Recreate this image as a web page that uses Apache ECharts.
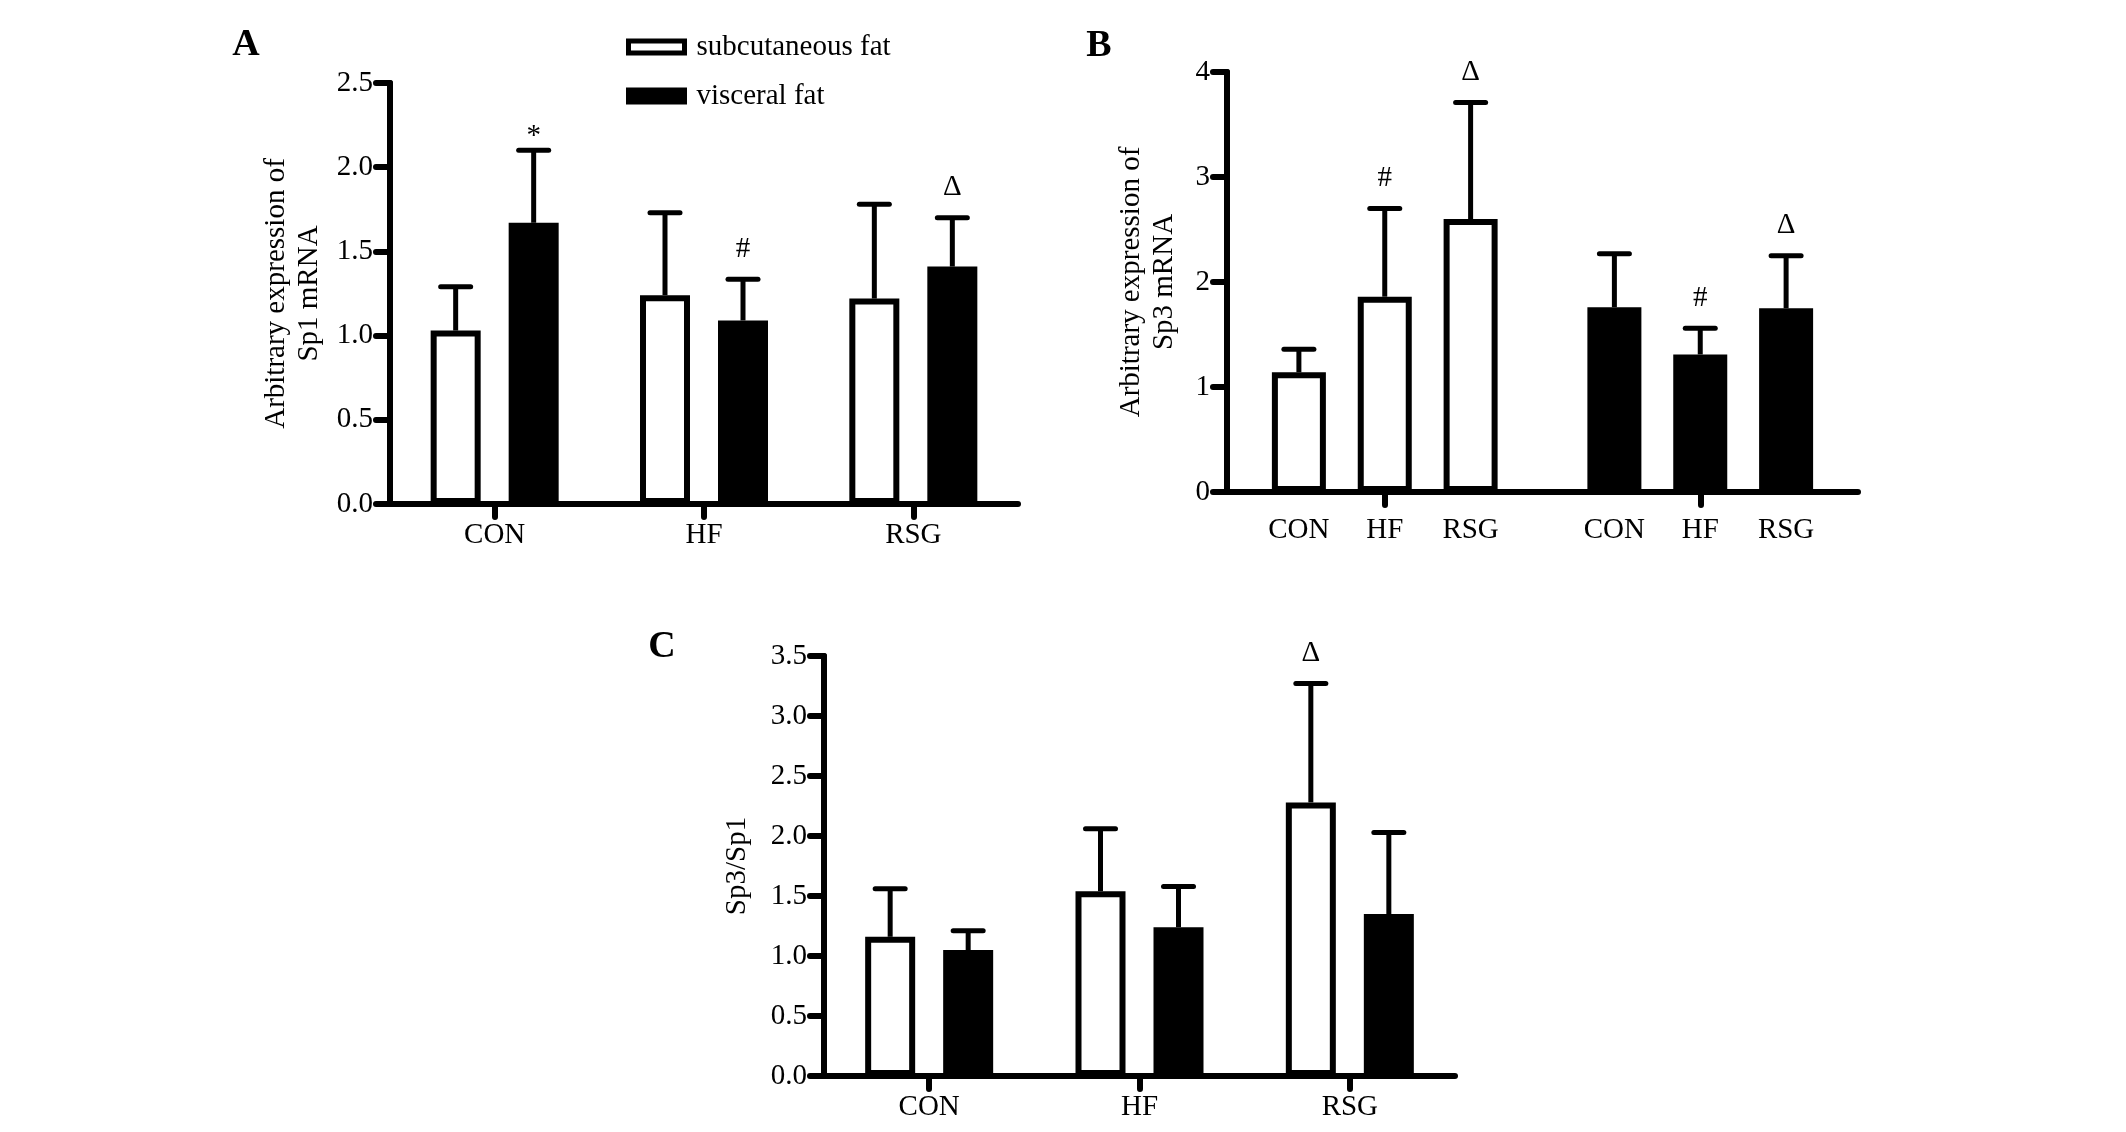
<!DOCTYPE html>
<html>
<head>
<meta charset="utf-8">
<script src="https://cdn.jsdelivr.net/npm/echarts@6/dist/echarts.min.js"></script>
<style>
html,body{margin:0;padding:0;background:#fff;}
#chart{width:2126px;height:1132px;}
</style>
</head>
<body>
<div id="chart"></div>
<script>
// ---------- data ----------
const groups = ['CON', 'HF', 'RSG'];
const seriesNames = ['subcutaneous fat', 'visceral fat'];

// Panel A: Sp1 mRNA
const a_sub = [1.03, 1.24, 1.22];
const a_sub_err = [0.26, 0.49, 0.56];
const a_vis = [1.67, 1.09, 1.41];
const a_vis_err = [0.43, 0.245, 0.29];
const a_sub_ann = ['', '', ''];
const a_vis_ann = ['*', '#', '\u0394'];
const a_ticks = [0, 0.5, 1.0, 1.5, 2.0, 2.5];

// Panel B: Sp3 mRNA (grouped by tissue)
const b_sub = [1.14, 1.86, 2.60];
const b_sub_err = [0.22, 0.84, 1.11];
const b_vis = [1.76, 1.31, 1.75];
const b_vis_err = [0.51, 0.25, 0.50];
const b_sub_ann = ['', '#', '\u0394'];
const b_vis_ann = ['', '#', '\u0394'];
const b_ticks = [0, 1, 2, 3, 4];

// Panel C: Sp3/Sp1
const c_sub = [1.16, 1.54, 2.28];
const c_sub_err = [0.40, 0.52, 0.99];
const c_vis = [1.05, 1.24, 1.35];
const c_vis_err = [0.16, 0.34, 0.68];
const c_sub_ann = ['', '', '\u0394'];
const c_vis_ann = ['', '', ''];
const c_ticks = [0, 0.5, 1.0, 1.5, 2.0, 2.5, 3.0, 3.5];

// ---------- styling ----------
const FONT = "'Liberation Serif','Times New Roman',serif";
const FS = 29;
const LW = 6;

function xAxisCfg(gridIndex, data, showLabel) {
  return {
    type: 'category', gridIndex: gridIndex, data: data,
    axisLine: { show: true, lineStyle: { color: '#000', width: LW, cap: 'round' } },
    axisTick: { show: true, alignWithLabel: true, length: 13, lineStyle: { color: '#000', width: LW, cap: 'round' } },
    axisLabel: { show: showLabel, fontSize: FS, fontFamily: FONT, color: '#000', margin: 17 },
    splitLine: { show: false }
  };
}
function yAxisCfg(gridIndex, ticks, decimals, name, nameGap) {
  return {
    type: 'value', gridIndex: gridIndex,
    min: ticks[0], max: ticks[ticks.length - 1], interval: ticks[1] - ticks[0],
    axisLine: { show: true, lineStyle: { color: '#000', width: LW, cap: 'round' } },
    axisTick: { show: true, length: 14, lineStyle: { color: '#000', width: LW, cap: 'round' } },
    axisLabel: { fontSize: FS, fontFamily: FONT, color: '#000', margin: 17,
      formatter: function (v) { return v.toFixed(decimals); } },
    splitLine: { show: false },
    name: name, nameLocation: 'middle', nameGap: nameGap, nameRotate: 90,
    nameTextStyle: { fontSize: FS, fontFamily: FONT, color: '#000', lineHeight: 33 }
  };
}
function barSeries(name, gridIndex, data, fill, barWidth, barGap) {
  return {
    type: 'bar', name: name, xAxisIndex: gridIndex, yAxisIndex: gridIndex,
    data: data, barWidth: barWidth, barGap: barGap,
    itemStyle: { color: fill, borderColor: '#000', borderWidth: LW },
    emphasis: { disabled: true }, silent: true, z: 2
  };
}
function errSeries(gridIndex, means, errs, anns, offsetFn) {
  const data = means.map(function (m, i) { return [i, m, errs[i]]; });
  return {
    type: 'custom', xAxisIndex: gridIndex, yAxisIndex: gridIndex, z: 3, silent: true,
    data: data,
    renderItem: function (params, api) {
      const cat = api.value(0), mean = api.value(1), err = api.value(2);
      const base = api.coord([cat, mean]);
      const top = api.coord([cat, mean + err]);
      const x = base[0] + offsetFn(params.dataIndex);
      const children = [
        { type: 'line', shape: { x1: x, y1: base[1], x2: x, y2: top[1] },
          style: { stroke: '#000', lineWidth: 5 } },
        { type: 'line', shape: { x1: x - 15, y1: top[1], x2: x + 15, y2: top[1] },
          style: { stroke: '#000', lineWidth: 5, lineCap: 'round' } }
      ];
      const ann = anns[params.dataIndex];
      if (ann) {
        children.push({ type: 'text', x: x, y: top[1] - (ann === '*' ? 14 : 30),
          style: { text: ann, fill: '#000', font: FS + 'px ' + FONT, align: 'center', verticalAlign: 'middle' } });
      }
      return { type: 'group', children: children };
    }
  };
}

// bar geometry
const AC_BW = 50, AC_GAP = 0.56;          // panels A and C
const B_BW = 54, B_GAP = 0.59;            // panel B
const acStep = AC_BW * (1 + AC_GAP);
const bStep = B_BW * (1 + B_GAP);

const series = [];
// Panel A
series.push(barSeries(seriesNames[0], 0, a_sub, '#fff', AC_BW, (AC_GAP * 100) + '%'));
series.push(barSeries(seriesNames[1], 0, a_vis, '#000', AC_BW, (AC_GAP * 100) + '%'));
series.push(errSeries(0, a_sub, a_sub_err, a_sub_ann, function () { return -acStep / 2; }));
series.push(errSeries(0, a_vis, a_vis_err, a_vis_ann, function () { return acStep / 2; }));

// Panel B: one series per treatment group, categories are tissues
groups.forEach(function (g, k) {
  const s = barSeries(g, 1, [
    { value: b_sub[k], itemStyle: { color: '#fff' } },
    { value: b_vis[k], itemStyle: { color: '#000' } }
  ], '#fff', B_BW, (B_GAP * 100) + '%');
  s.label = { show: true, position: 'bottom', distance: 24, formatter: '{a}',
    fontSize: FS, fontFamily: FONT, color: '#000' };
  series.push(s);
});
groups.forEach(function (g, k) {
  const off = (k - 1) * bStep;
  series.push(errSeries(1, [b_sub[k], b_vis[k]], [b_sub_err[k], b_vis_err[k]],
    [b_sub_ann[k], b_vis_ann[k]], function () { return off; }));
});

// Panel C
series.push(barSeries(seriesNames[0], 2, c_sub, '#fff', AC_BW, (AC_GAP * 100) + '%'));
series.push(barSeries(seriesNames[1], 2, c_vis, '#000', AC_BW, (AC_GAP * 100) + '%'));
series.push(errSeries(2, c_sub, c_sub_err, c_sub_ann, function () { return -acStep / 2; }));
series.push(errSeries(2, c_vis, c_vis_err, c_vis_ann, function () { return acStep / 2; }));

const option = {
  backgroundColor: '#fff',
  animation: false,
  grid: [
    { left: 390, top: 83, width: 628, height: 421, outerBoundsMode: 'none', containLabel: false },
    { left: 1227, top: 72, width: 631, height: 420, outerBoundsMode: 'none', containLabel: false },
    { left: 824, top: 656, width: 631, height: 420, outerBoundsMode: 'none', containLabel: false }
  ],
  xAxis: [
    xAxisCfg(0, groups, true),
    xAxisCfg(1, seriesNames, false),
    xAxisCfg(2, groups, true)
  ],
  yAxis: [
    yAxisCfg(0, a_ticks, 1, 'Arbitrary expression of\nSp1 mRNA', 64),
    yAxisCfg(1, b_ticks, 0, 'Arbitrary expression of\nSp3 mRNA', 46),
    yAxisCfg(2, c_ticks, 1, 'Sp3/Sp1', 70)
  ],
  legend: {
    orient: 'vertical', left: 626, top: 32, padding: 0,
    itemWidth: 56, itemHeight: 12, itemGap: 19, selectedMode: false,
    textStyle: { fontSize: FS, fontFamily: FONT, color: '#000', lineHeight: 30, padding: [0, 0, 0, 7] },
    data: [
      { name: seriesNames[0], icon: 'rect', itemStyle: { color: '#fff', borderColor: '#000', borderWidth: 5 } },
      { name: seriesNames[1], icon: 'rect', itemStyle: { color: '#000', borderColor: '#000', borderWidth: 5 } }
    ]
  },
  graphic: [
    { type: 'text', x: 246, y: 45, style: { text: 'A', font: 'bold 38px ' + FONT, fill: '#000', align: 'center', verticalAlign: 'middle' } },
    { type: 'text', x: 1099, y: 46, style: { text: 'B', font: 'bold 38px ' + FONT, fill: '#000', align: 'center', verticalAlign: 'middle' } },
    { type: 'text', x: 662, y: 647, style: { text: 'C', font: 'bold 38px ' + FONT, fill: '#000', align: 'center', verticalAlign: 'middle' } }
  ],
  series: series
};

const chart = echarts.init(document.getElementById('chart'), null, { renderer: 'canvas' });
chart.setOption(option);
</script>
</body>
</html>
